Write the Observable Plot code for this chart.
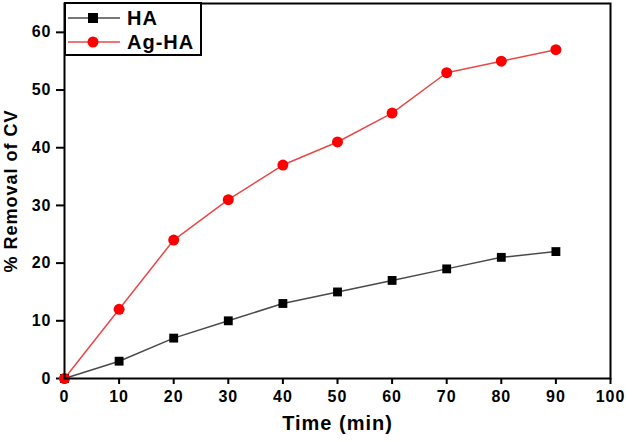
<!DOCTYPE html>
<html><head><meta charset="utf-8">
<script src="https://cdn.jsdelivr.net/npm/d3@7"></script>
<script src="https://cdn.jsdelivr.net/npm/@observablehq/plot@0.6"></script>
<style>
body{margin:0;background:#fff;}
#wrap{position:relative;width:627px;height:442px;font-family:"Liberation Sans",Arial,sans-serif;}
#chart svg text{letter-spacing:1px;}
#chart svg g[aria-label="x-axis tick label"], #chart svg g[aria-label="y-axis tick label"],
#chart svg g[aria-label="x-axis tick label"] text, #chart svg g[aria-label="y-axis tick label"] text{font-size:16px;font-weight:bold;}
#legend{position:absolute;left:64px;top:2px;width:134px;height:50px;border:2px solid #000;background:#fff;}
.row{position:absolute;left:0;height:24px;display:flex;align-items:center;}
.row span{font-weight:bold;font-size:20px;letter-spacing:1px;margin-left:5px;}
</style></head>
<body><div id="wrap"><div id="chart"></div><div id="legend"></div></div>
<script>
const times = [0,10,20,30,40,50,60,70,80,90];
const haValues = [0,3,7,10,13,15,17,19,21,22];
const agHaValues = [0,12,24,31,37,41,46,53,55,57];
const seriesNames = ["HA","Ag-HA"];
const xTicks = [0,10,20,30,40,50,60,70,80,90,100];
const yTicks = [0,10,20,30,40,50,60];
const lineColors = {"HA":"#4a4a4a","Ag-HA":"#e84848"};
const dotColors = {"HA":"#000","Ag-HA":"#ff0000"};
const symbols = {"HA":"square","Ag-HA":"circle"};

const ha = times.map((t,i)=>({t, v: haValues[i], s: "HA"}));
const ag = times.map((t,i)=>({t, v: agHaValues[i], s: "Ag-HA"}));

const chart = Plot.plot({
  width: 627, height: 442,
  marginLeft: 64, marginRight: 17, marginTop: 3, marginBottom: 64,
  style: {fontFamily: '"Liberation Sans", Arial, sans-serif', fontWeight: "bold", fontSize: "16px", color: "#000", background: "#fff"},
  x: {domain: [0,100]},
  y: {domain: [0,65]},
  marks: [
    Plot.axisX({ticks: xTicks, tickSize: 6, tickPadding: 6, label: null, strokeWidth: 2, fontSize: 16}),
    Plot.axisY({ticks: yTicks, tickSize: 8, tickPadding: 5, label: null, strokeWidth: 2, fontSize: 16}),
    Plot.line(ha, {x: "t", y: "v", stroke: lineColors["HA"], strokeWidth: 1.5}),
    Plot.line(ag, {x: "t", y: "v", stroke: lineColors["Ag-HA"], strokeWidth: 1.5}),
    Plot.dot(ha, {x: "t", y: "v", symbol: "square", fill: dotColors["HA"], r: 5}),
    Plot.dot(ag, {x: "t", y: "v", symbol: "circle", fill: dotColors["Ag-HA"], r: 5.5}),
    Plot.frame({stroke: "#000", strokeWidth: 2}),
    Plot.text(["Time (min)"], {frameAnchor: "bottom", dy: 51, fontSize: 20, fontWeight: "bold"}),
    Plot.text(["% Removal of CV"], {frameAnchor: "left", dx: -53, rotate: -90, textAnchor: "middle", fontSize: 18, fontWeight: "bold"})
  ]
});
document.getElementById("chart").appendChild(chart);

const legend = document.getElementById("legend");
seriesNames.forEach((name, i) => {
  const row = document.createElement("div");
  row.className = "row";
  row.style.top = (2 + i*24) + "px";
  const sym = symbols[name] === "square"
    ? `<rect x="22" y="7" width="10" height="10" fill="${dotColors[name]}"/>`
    : `<circle cx="27" cy="12" r="5.5" fill="${dotColors[name]}"/>`;
  row.innerHTML = `<svg width="56" height="24"><line x1="2" x2="54" y1="12" y2="12" stroke="${lineColors[name]}" stroke-width="1.5"/>${sym}</svg><span>${name}</span>`;
  legend.appendChild(row);
});
</script></body></html>
